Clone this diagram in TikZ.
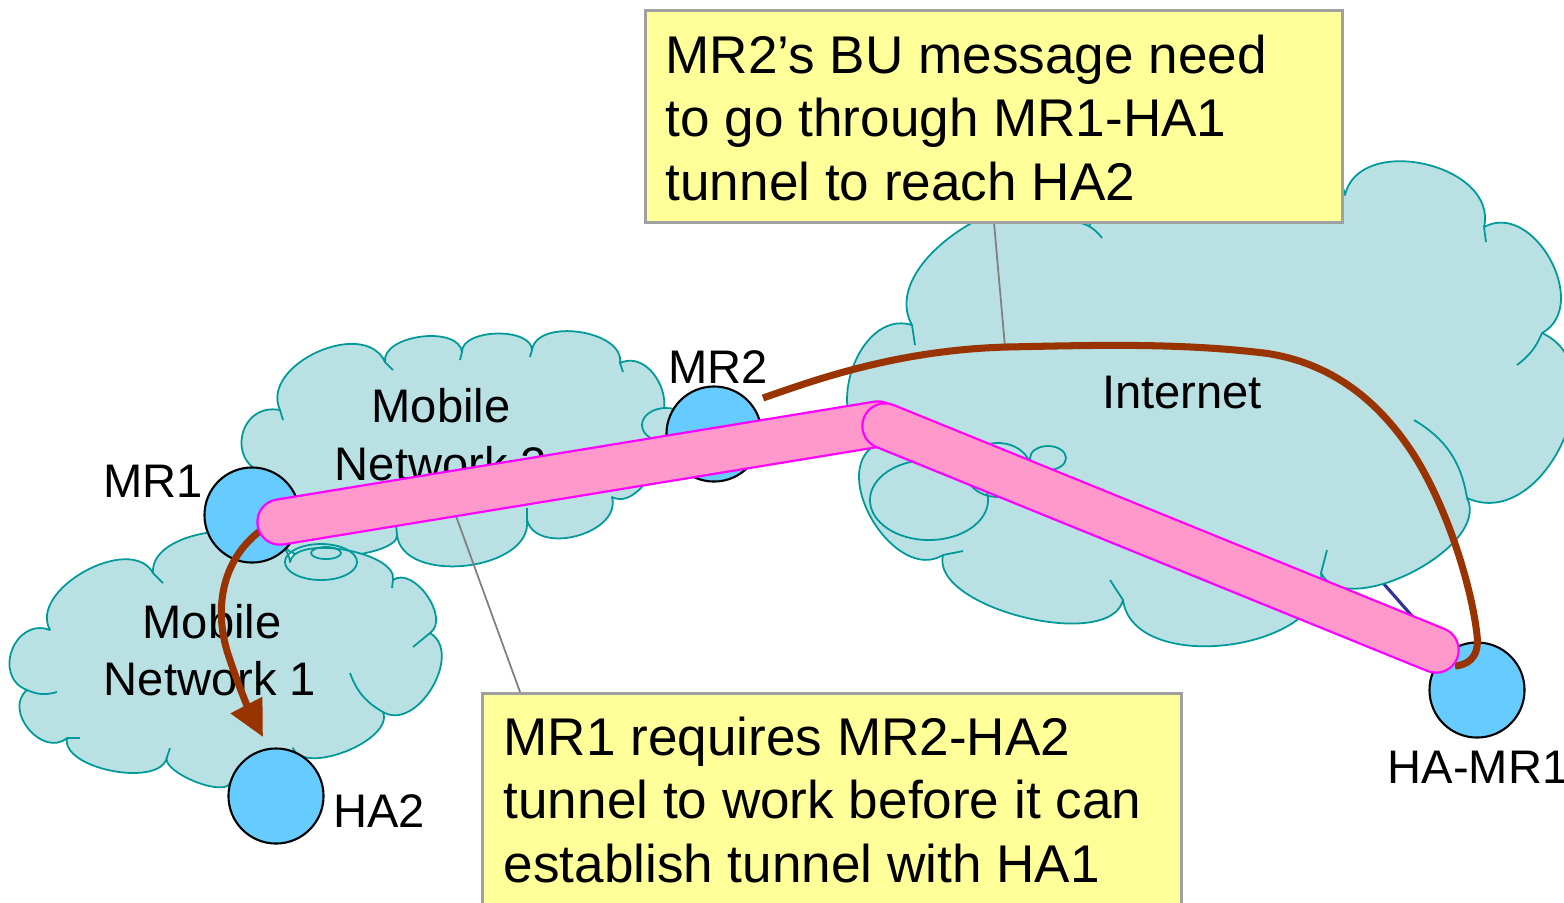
\documentclass[tikz,border=0pt]{standalone}
\usepackage{fontspec}
\setmainfont{Liberation Sans}
\usetikzlibrary{arrows.meta}
\definecolor{cloudfill}{HTML}{B9E0E3}
\definecolor{cloudline}{HTML}{009999}
\definecolor{nodeblue}{HTML}{66CCFF}
\definecolor{tunnelpink}{HTML}{FF99CC}
\definecolor{tunnelline}{HTML}{FF00FF}
\definecolor{brownpath}{HTML}{993300}
\definecolor{calloutfill}{HTML}{FFFF99}
\definecolor{calloutline}{HTML}{A0A0A0}
\definecolor{pointergray}{HTML}{808080}
\definecolor{linkblue}{HTML}{333399}
\begin{document}
\begin{tikzpicture}[x=0.01cm, y=-0.01cm,
  cloudshape/.style={draw=cloudline, fill=cloudfill, line width=0.5pt, line join=round},
  tick/.style={draw=cloudline, line width=0.5pt},
  pf/.style={bend left=90, looseness=#1},
  router/.style={circle, draw=black, fill=nodeblue, line width=0.6pt, minimum size=0.95cm, inner sep=0pt},
  lbl/.style={font=\fontsize{13.4}{16.5}\selectfont, inner sep=0pt},
  ctext/.style={font=\fontsize{15.1}{18}\selectfont, inner sep=0pt, anchor=base west},
  callout/.style={draw=calloutline, fill=calloutfill, line width=0.8pt, inner sep=0pt, anchor=north west},
  pointer/.style={draw=pointergray, line width=0.5pt},
  tunnelborder/.style={line width=0.475cm, tunnelline, line cap=round},
  tunnelbody/.style={line width=0.43cm, tunnelpink, line cap=round},
  bu/.style={draw=brownpath, line width=2pt},
]
\useasboundingbox (0,0) rectangle (1564,902);
\clip (0,0) rectangle (1564,902);

% hidden link from HA-MR1 into the Internet cloud
\coordinate (hamr1c) at (1477,690);
\coordinate (netlink) at (1340,534);
\draw[linkblue, line width=0.9pt] (hamr1c) -- (netlink);

% Mobile Network 2 cloud
\path[cloudshape] (268,474) to[pf=1.7] (280,410) to[pf=1.1] (385,362) to[pf=0.9] (462,352)
  to[pf=0.85] (532,350) to[pf=0.95] (620,363) to[pf=1.3] (650,428) to[pf=1.0] (612,497)
  to[pf=1.1] (527,520) to[pf=1.0] (397,535) to[pf=0.5] (285,545) to[pf=1.0] (268,474) -- cycle;
\path[cloudshape] (666,425) ellipse [x radius=0.24cm, y radius=0.17cm];
\draw[tick] (280,410) -- (283,420);
\draw[tick] (385,362) -- (393,370);
\draw[tick] (462,352) -- (460,360);
\draw[tick] (532,350) -- (530,357);
\draw[tick] (620,363) -- (623,372);
\draw[tick] (527,520) -- (527,508);
\draw[tick] (397,535) -- (396,524);

% Mobile Network 1 cloud
\path[cloudshape] (27,690) to[pf=1.5] (50,630) to[pf=1.0] (153,573) to[pf=0.9] (290,562)
  to[pf=0.7] (393,580) to[pf=1.0] (430,633) to[pf=1.1] (383,712) to[pf=0.8] (293,748)
  to[pf=1.0] (230,783) to[pf=0.6] (167,757) to[pf=0.8] (67,738) to[pf=1.3] (27,690) -- cycle;
\draw[tick] (27,690) to[bend right=20] (57,692);
\draw[tick] (67,738) -- (80,738);
\draw[tick] (383,712) to[bend left=20] (350,673);
\draw[tick] (430,633) -- (413,647);
\draw[tick] (393,580) -- (392,588);
\draw[tick] (153,573) -- (163,583);
\draw[tick] (167,757) -- (170,748);
\draw[tick] (321,562) ellipse [x radius=0.36cm, y radius=0.18cm];
\draw[tick] (326,553) ellipse [x radius=0.15cm, y radius=0.06cm];

% Internet cloud
\path[cloudshape] (875,445) to[pf=1.2] (912,325) to[pf=1.0] (1090,225) to[pf=0.6] (1345,195)
  to[pf=1.15] (1484,227) to[pf=1.2] (1542,333) to[pf=1.2] (1467,498) to[pf=0.85] (1321,573)
  to[pf=1.0] (1123,600) to[pf=0.75] (943,555) to[pf=1.1] (875,445) -- cycle;
\draw[tick] (912,325) -- (915,345);
\draw[tick] (1077,222) to[bend left=20] (1102,238);
\draw[tick] (1484,227) -- (1486,242);
\draw[tick] (1542,333) to[bend left=15] (1517,365);
\draw[tick] (1467,498) to[bend right=25] (1414,420);
\draw[tick] (1321,573) -- (1327,550);
\draw[tick] (1123,600) -- (1110,580);
\draw[tick] (943,555) -- (963,551);
\draw[tick] (929,500) ellipse [x radius=0.59cm, y radius=0.40cm];
\draw[tick] (998,470) ellipse [x radius=0.33cm, y radius=0.27cm];
\draw[tick, fill=cloudfill] (1048,458) ellipse [x radius=0.18cm, y radius=0.12cm];

% callout boxes
\node[callout, minimum width=6.97cm, minimum height=2.12cm] (box1) at (644,9) {};
\node[ctext] (b1l1) at (665,73) {MR2’s BU message need};
\node[ctext] (b1l2) at (665,136.5) {to go through MR1-HA1};
\node[ctext] (b1l3) at (665,200) {tunnel to reach HA2};
\node[callout, minimum width=6.99cm, minimum height=2.5cm] (box2) at (481,692) {};
\node[ctext] (b2l1) at (503,755) {MR1 requires MR2-HA2};
\node[ctext] (b2l2) at (503,818) {tunnel to work before it can};
\node[ctext] (b2l3) at (503,882) {establish tunnel with HA1};

% callout pointers
\coordinate (ptr1) at (1005,347);
\draw[pointer] (box1.south) -- (ptr1);
\coordinate (ptr2) at (452,505);
\draw[pointer] ([xshift=0.39cm]box2.north west) -- (ptr2);

% routers
\node[router] (mr1) at (252,515) {};
\node[router] (mr2) at (714,434) {};
\node[router] (ha2) at (276,796) {};
\node[router] (hamr1) at (hamr1c) {};

% labels
\node[lbl, anchor=base] (lmr1) at (153,497) {MR1};
\node[lbl, anchor=base] (lmr2) at (718,383) {MR2};
\node[lbl, anchor=base] (lha2) at (379,827) {HA2};
\node[lbl, anchor=base west] (lhamr1) at (1387,783) {HA-MR1};
\node[lbl, anchor=base] (linet) at (1182,408) {Internet};
\node[lbl, anchor=base] (lmn2a) at (441,422) {Mobile};
\node[lbl, anchor=base] (lmn2b) at (441,480) {Network 2};
\node[lbl, anchor=base] (lmn1a) at (212,638) {Mobile};
\node[lbl, anchor=base] (lmn1b) at (210,695) {Network 1};

% BU paths
\coordinate (bustart) at (763,398);
\coordinate (buend) at (1455,666);
\draw[bu] (bustart) .. controls (820,378) and (900,350) .. (1007,347)
  .. controls (1100,345) and (1180,343) .. (1264,353)
  .. controls (1330,362) and (1380,400) .. (1417,460)
  .. controls (1450,515) and (1472,590) .. (1477,635)
  .. controls (1480,660) and (1465,665) .. (buend);
\coordinate (arrstart) at (260,531);
\coordinate (arrtip) at (263,737);
\draw[bu, -{Triangle[length=0.36cm, width=0.34cm]}] (arrstart)
  .. controls (222,560) and (212,610) .. (230,660)
  .. controls (240,690) and (250,712) .. (arrtip);

% tunnel
\coordinate (t1a) at (280,522);
\coordinate (t1b) at (878,424);
\coordinate (t2a) at (885,426);
\coordinate (t2b) at (1436,650);
\draw[tunnelborder] (t1a) -- (t1b);
\draw[tunnelbody] (t1a) -- (t1b);
\draw[tunnelborder] (t2a) -- (t2b);
\draw[tunnelbody] (t2a) -- (t2b);
\end{tikzpicture}
\end{document}
